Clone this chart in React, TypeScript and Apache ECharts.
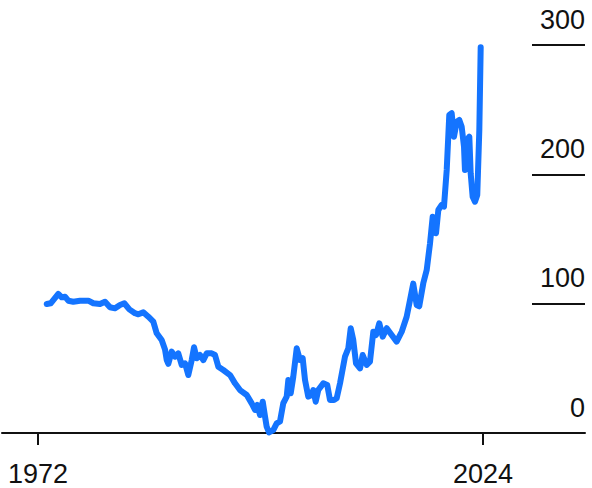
import React, { useEffect, useRef } from "react";
import * as echarts from "echarts";

const years = [
  1973.02, 1973.48, 1974.37, 1974.77, 1975.15, 1975.54, 1976.12, 1976.91, 1977.88, 1978.46,
  1979.24, 1979.83, 1980.41, 1981.0, 1981.58, 1982.08, 1982.67, 1983.33, 1983.72, 1984.3,
  1984.89, 1985.47, 1985.87, 1986.45, 1986.84, 1987.04, 1987.23, 1987.62, 1988.01, 1988.39,
  1988.79, 1989.18, 1989.56, 1989.96, 1990.23, 1990.54, 1990.93, 1991.32, 1991.71, 1992.3,
  1992.68, 1993.07, 1993.65, 1994.44, 1995.02, 1995.6, 1996.39, 1996.97, 1997.36, 1997.63,
  1997.94, 1998.26, 1998.53, 1998.72, 1998.99, 1999.49, 1999.89, 2000.28, 2000.66, 2001.06,
  2001.25, 2001.53, 2001.83, 2002.23, 2002.61, 2002.93, 2003.2, 2003.58, 2003.98, 2004.17,
  2004.45, 2004.75, 2005.34, 2005.8, 2006.12, 2006.59, 2006.9, 2007.29, 2007.87, 2008.26,
  2008.54, 2008.84, 2009.16, 2009.63, 2009.94, 2010.41, 2010.79, 2011.18, 2011.5, 2011.88,
  2012.28, 2012.75, 2013.33, 2013.91, 2014.5, 2015.08, 2015.47, 2015.85, 2016.25, 2016.55,
  2017.02, 2017.42, 2017.81, 2018.12, 2018.51, 2018.78, 2019.17, 2019.44, 2019.76, 2020.06,
  2020.34, 2020.61, 2020.93, 2021.23, 2021.51, 2021.78, 2021.89, 2022.16, 2022.4, 2022.56,
  2022.79, 2023.06, 2023.33, 2023.57, 2023.73,
];

const values = [
  99.7, 100.3, 107.5, 104.9, 105.4, 102.3, 101.5, 102.3, 102.3, 100.3,
  99.7, 101.5, 97.2, 96.4, 99.0, 100.3, 95.6, 92.6, 91.8, 93.3,
  89.9, 86.1, 77.1, 71.9, 64.5, 56.4, 53.5, 62.9, 59.0, 61.6,
  52.6, 53.9, 44.8, 56.4, 66.3, 57.8, 60.3, 56.4, 61.6, 61.6,
  60.3, 51.3, 48.7, 44.8, 38.4, 33.2, 29.4, 22.9, 17.8, 21.7,
  13.9, 24.2, 12.6, 4.9, 0.5, 2.3, 7.5, 9.0, 23.0, 28.1,
  41.0, 30.7, 43.5, 65.5, 56.4, 57.8, 41.0, 28.1, 29.4, 33.2,
  24.2, 33.2, 38.4, 37.1, 25.5, 25.5, 26.8, 38.4, 59.0, 65.5,
  81.0, 71.9, 53.9, 50.0, 60.3, 52.6, 55.1, 78.3, 75.8, 84.8,
  74.5, 81.0, 75.8, 70.6, 78.3, 89.9, 102.8, 115.5, 99.0, 98.0,
  115.7, 126.0, 146.7, 167.2, 154.4, 172.4, 176.3, 175.0, 203.4, 245.9,
  247.2, 229.1, 240.7, 242.0, 236.8, 221.4, 203.4, 226.6, 229.1, 200.8,
  182.7, 178.8, 184.0, 234.3, 298.2,
];

const xTickYears = [1972, 2024];
const yTicks = [0, 100, 200, 300];

const FONT = "'Liberation Sans', Arial, Helvetica, sans-serif";
const INK = "#111111";

export default function App() {
  const ref = useRef<HTMLDivElement>(null);

  useEffect(() => {
    if (!ref.current) return;
    const chart = echarts.init(ref.current, null, { renderer: "svg" });
    const data = years.map((y, i) => [y, values[i]]);
    chart.setOption({
      animation: false,
      backgroundColor: "#ffffff",
      grid: { left: 2, right: 7, top: 45, bottom: 55, containLabel: false },
      xAxis: {
        type: "value",
        min: 1967.79,
        max: 2035.92,
        splitLine: { show: false },
        axisLine: { show: true, lineStyle: { color: INK, width: 2 } },
        axisTick: {
          show: true,
          customValues: xTickYears,
          length: 12,
          lineStyle: { color: INK, width: 2 },
        },
        axisLabel: {
          customValues: xTickYears,
          fontSize: 27,
          fontFamily: FONT,
          color: INK,
          margin: 27,
          formatter: (v: number) => String(Math.round(v)),
        },
      },
      yAxis: {
        type: "value",
        position: "right",
        min: 0,
        max: 300,
        interval: 100,
        splitLine: { show: false },
        axisLine: { show: false },
        axisTick: {
          show: true,
          inside: true,
          length: 53,
          lineStyle: { color: INK, width: 2 },
        },
        axisLabel: {
          inside: true,
          margin: 0,
          align: "right",
          verticalAlign: "bottom",
          fontSize: 27,
          lineHeight: 27,
          padding: [0, 0, 12, 0],
          fontFamily: FONT,
          color: INK,
          customValues: yTicks,
        },
      },
      series: [
        {
          type: "line",
          data,
          showSymbol: false,
          symbol: "none",
          smooth: false,
          lineStyle: { color: "#1474ff", width: 6, cap: "round", join: "round" },
          z: 3,
        },
      ],
    });
    return () => chart.dispose();
  }, []);

  return (
    <div
      ref={ref}
      style={{ position: "fixed", left: 0, top: 0, width: 592, height: 488, background: "#fff" }}
    />
  );
}
